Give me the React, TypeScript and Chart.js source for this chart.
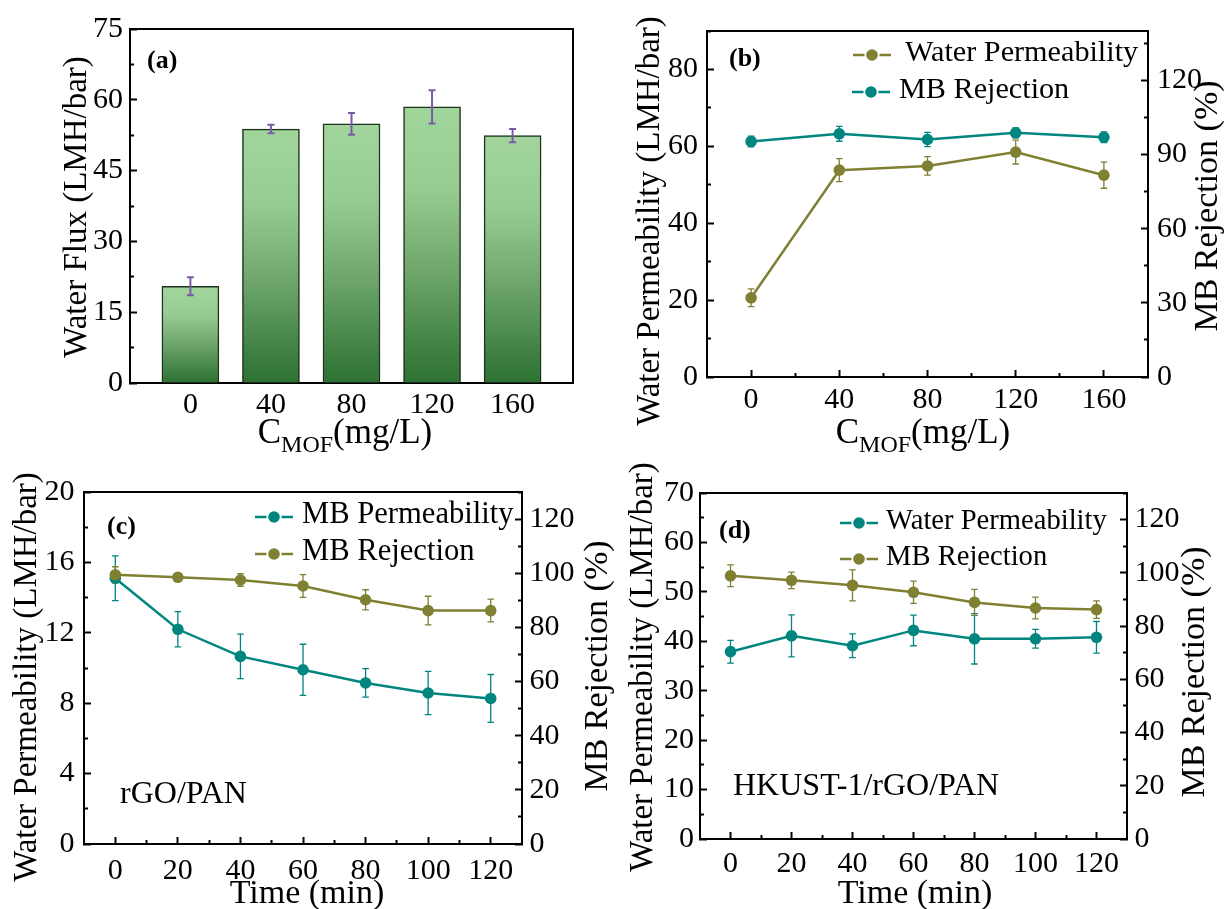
import React, { useEffect, useRef } from 'react';
import { Chart, registerables } from 'chart.js';

Chart.register(...registerables);

const FONT = '"Liberation Serif", "Times New Roman", Times, serif';
Chart.defaults.font.family = FONT;
Chart.defaults.color = '#000';

const TEAL = '#00857f';
const OLIVE = '#808033';
const PURPLE = '#7c5ba6';
const TICK_SIZE = 30;

// ---------- Panel (a): Water flux vs MOF concentration ----------
const aConc = [0, 40, 80, 120, 160];
const aFlux = [20.5, 53.8, 54.9, 58.5, 52.4];
const aFluxErr = [1.9, 0.9, 2.3, 3.5, 1.4];
const aYTicks = [0, 15, 30, 45, 60, 75];
const aXTicks = [0, 40, 80, 120, 160];

// ---------- Panel (b): permeability & rejection vs MOF concentration ----------
const bConc = [0, 40, 80, 120, 160];
const bPerm = [20.6, 53.8, 54.9, 58.5, 52.5];
const bPermErr = [2.3, 3.0, 2.4, 3.1, 3.4];
const bRej = [95.3, 98.4, 96.1, 98.8, 97.0];
const bRejErr = [2.2, 3.0, 2.9, 2.0, 2.2];
const bYTicks = [0, 20, 40, 60, 80];
const bY2Ticks = [0, 30, 60, 90, 120];
const bXTicks = [0, 40, 80, 120, 160];

// ---------- Panel (c): rGO/PAN over time ----------
const cTime = [0, 20, 40, 60, 80, 100, 120];
const cPerm = [15.1, 12.2, 10.66, 9.9, 9.15, 8.58, 8.27];
const cPermErr = [1.27, 1.0, 1.26, 1.45, 0.81, 1.23, 1.36];
const cRej = [99.4, 98.5, 97.5, 95.3, 90.2, 86.2, 86.2];
const cRejErr = [3.0, 1.0, 2.3, 4.2, 3.7, 5.3, 4.2];
const cYTicks = [0, 4, 8, 12, 16, 20];
const cY2Ticks = [0, 20, 40, 60, 80, 100, 120];
const cXTicks = [0, 20, 40, 60, 80, 100, 120];

// ---------- Panel (d): HKUST-1/rGO/PAN over time ----------
const dTime = [0, 20, 40, 60, 80, 100, 120];
const dPerm = [37.9, 41.1, 39.1, 42.2, 40.5, 40.5, 40.8];
const dPermErr = [2.3, 4.25, 2.4, 3.1, 5.1, 1.9, 3.2];
const dRej = [98.9, 97.2, 95.3, 92.7, 88.9, 86.8, 86.2];
const dRejErr = [4.1, 3.1, 5.8, 4.2, 4.9, 4.1, 3.3];
const dYTicks = [0, 10, 20, 30, 40, 50, 60, 70];
const dY2Ticks = [0, 20, 40, 60, 80, 100, 120];
const dXTicks = [0, 20, 40, 60, 80, 100, 120];

const range = (a: number, b: number, s: number) => {
  const out: number[] = [];
  for (let v = a; v <= b + 1e-9; v += s) out.push(Math.round(v * 1000) / 1000);
  return out;
};

const pts = (xs: number[], ys: number[]) => xs.map((x, i) => ({ x, y: ys[i] }));

type AxisOpt = {
  position: 'left' | 'right' | 'bottom';
  min: number;
  max: number;
  ticks: number[];
  labels: number[];
  size: number;
  padding: number;
  marks?: boolean;
};

function axis(o: AxisOpt) {
  const horizontal = o.position === 'bottom';
  const isMajor = (v: number) => o.labels.some((l) => Math.abs(l - v) < 1e-6);
  const minorDash = o.position === 'left' ? [0, 3, 30] : [5, 30];
  return {
    type: 'linear',
    position: o.position,
    min: o.min,
    max: o.max,
    offset: false,
    afterBuildTicks: (s: any) => {
      s.ticks = o.ticks.map((v) => ({ value: v }));
    },
    afterFit: (s: any) => {
      if (horizontal) s.height = o.size;
      else s.width = o.size;
    },
    ticks: {
      autoSkip: false,
      maxRotation: 0,
      minRotation: 0,
      padding: o.padding,
      color: '#000',
      font: { family: FONT, size: TICK_SIZE, lineHeight: 1 },
      callback: (v: any) => (isMajor(Number(v)) ? String(v) : ''),
    },
    grid: {
      display: o.marks !== false,
      offset: false,
      drawOnChartArea: false,
      drawTicks: true,
      tickLength: -7,
      tickWidth: 2,
      tickColor: '#000',
      tickBorderDash: (c: any) => (c.tick && !isMajor(c.tick.value) ? minorDash : []),
    },
    border: { display: true, color: '#000', width: 2 },
    title: { display: false },
  };
}

function drawErrorBars(chart: any) {
  const ctx = chart.ctx;
  chart.data.datasets.forEach((ds: any, di: number) => {
    if (!ds.errorBars) return;
    const meta = chart.getDatasetMeta(di);
    const ys = chart.scales[meta.yAxisID];
    ctx.save();
    ctx.strokeStyle = ds.errorColor;
    ctx.lineWidth = ds.errorWidth;
    ctx.lineCap = 'butt';
    meta.data.forEach((el: any, i: number) => {
      const v = ds.data[i].y;
      const e = ds.errorBars[i];
      const x = el.x;
      const y1 = ys.getPixelForValue(v + e);
      const y2 = ys.getPixelForValue(v - e);
      const cap = ds.errorCap;
      ctx.beginPath();
      ctx.moveTo(x, y1);
      ctx.lineTo(x, y2);
      ctx.moveTo(x - cap, y1);
      ctx.lineTo(x + cap, y1);
      ctx.moveTo(x - cap, y2);
      ctx.lineTo(x + cap, y2);
      ctx.stroke();
    });
    ctx.restore();
  });
}

function errorPlugin(after: boolean) {
  return {
    id: 'errorBars',
    beforeDatasetsDraw: (c: any) => {
      if (!after) drawErrorBars(c);
    },
    afterDatasetsDraw: (c: any) => {
      if (after) drawErrorBars(c);
    },
  };
}

type Txt = {
  text: string;
  x: number;
  y: number;
  size: number;
  bold?: boolean;
  rotate?: boolean;
  align?: CanvasTextAlign;
  baseline?: CanvasTextBaseline;
  sub?: [string, string, string];
  subSize?: number;
  subDy?: number;
};
type LegendItem = { ds: number; x: number; y: number; textX: number };
type DecorCfg = { frameRight?: boolean; texts: Txt[]; legend?: LegendItem[]; legendSize?: number };

function decor(cfg: DecorCfg) {
  return {
    id: 'decor',
    afterDraw: (chart: any) => {
      const ctx: CanvasRenderingContext2D = chart.ctx;
      const ca = chart.chartArea;
      ctx.save();
      // frame
      ctx.strokeStyle = '#000';
      ctx.lineWidth = 2;
      ctx.beginPath();
      ctx.moveTo(ca.left - 1, ca.top);
      ctx.lineTo(ca.right + (cfg.frameRight ? 0 : 1), ca.top);
      if (cfg.frameRight) ctx.lineTo(ca.right, ca.bottom + 1);
      ctx.stroke();
      // texts
      ctx.fillStyle = '#000';
      for (const t of cfg.texts) {
        if (t.sub) {
          const [a, b, c] = t.sub;
          const big = `${t.size}px ${FONT}`;
          const small = `${t.subSize}px ${FONT}`;
          ctx.textAlign = 'left';
          ctx.textBaseline = 'alphabetic';
          ctx.font = big;
          const wa = ctx.measureText(a).width;
          const wc = ctx.measureText(c).width;
          ctx.font = small;
          const wb = ctx.measureText(b).width;
          const x0 = t.x - (wa + wb + wc) / 2;
          ctx.font = big;
          ctx.fillText(a, x0, t.y);
          ctx.font = small;
          ctx.fillText(b, x0 + wa, t.y + (t.subDy || 0));
          ctx.font = big;
          ctx.fillText(c, x0 + wa + wb, t.y);
          continue;
        }
        ctx.font = `${t.bold ? 'bold ' : ''}${t.size}px ${FONT}`;
        ctx.textAlign = t.align || 'center';
        ctx.textBaseline = t.baseline || 'middle';
        if (t.rotate) {
          ctx.save();
          ctx.translate(t.x, t.y);
          ctx.rotate(-Math.PI / 2);
          ctx.fillText(t.text, 0, 0);
          ctx.restore();
        } else {
          ctx.fillText(t.text, t.x, t.y);
        }
      }
      // legend
      if (cfg.legend) {
        for (const it of cfg.legend) {
          const ds = chart.data.datasets[it.ds];
          const col = ds.borderColor;
          ctx.strokeStyle = col;
          ctx.fillStyle = col;
          ctx.lineWidth = 2.5;
          ctx.beginPath();
          ctx.moveTo(it.x - 19, it.y);
          ctx.lineTo(it.x - 7.5, it.y);
          ctx.moveTo(it.x + 7.5, it.y);
          ctx.lineTo(it.x + 19, it.y);
          ctx.stroke();
          ctx.beginPath();
          ctx.arc(it.x, it.y, 5.8, 0, Math.PI * 2);
          ctx.fill();
          ctx.fillStyle = '#000';
          ctx.font = `${cfg.legendSize || 29}px ${FONT}`;
          ctx.textAlign = 'left';
          ctx.textBaseline = 'alphabetic';
          ctx.fillText(ds.label, it.textX, it.y + 6);
        }
      }
      ctx.restore();
    },
  };
}

const barGradient = (c: any) => {
  const chart = c.chart;
  const y = chart.scales && chart.scales.y;
  if (!chart.chartArea || !y || !c.parsed) return '#8cc487';
  const top = y.getPixelForValue(c.parsed.y);
  const bot = y.getPixelForValue(0);
  const g = chart.ctx.createLinearGradient(0, top, 0, bot);
  g.addColorStop(0, '#a1d59c');
  g.addColorStop(0.3, '#96cc91');
  g.addColorStop(0.6, '#6ea56b');
  g.addColorStop(0.85, '#448446');
  g.addColorStop(1, '#2d7232');
  return g;
};

const lineStyle = (color: string) => ({
  borderColor: color,
  backgroundColor: color,
  pointBackgroundColor: color,
  pointBorderColor: color,
  borderWidth: 2.5,
  pointRadius: 5.8,
  pointHoverRadius: 5.8,
  pointBorderWidth: 0,
  tension: 0,
  fill: false,
  errorColor: color,
  errorWidth: 1.3,
  errorCap: 3.3,
});

const baseOptions = (padTop: number, padRight: number) => ({
  responsive: false,
  animation: false,
  events: [],
  layout: { padding: { left: 0, top: padTop, right: padRight, bottom: 0 } },
  plugins: { legend: { display: false }, tooltip: { enabled: false } },
});

function buildA(): any {
  return {
    type: 'bar',
    data: {
      datasets: [
        {
          label: 'Water Flux',
          data: pts(aConc, aFlux),
          backgroundColor: barGradient,
          borderColor: '#1c321c',
          borderWidth: 1.5,
          barThickness: 57,
          errorBars: aFluxErr,
          errorColor: PURPLE,
          errorWidth: 2,
          errorCap: 3.5,
        },
      ],
    },
    options: {
      ...baseOptions(27, 39),
      scales: {
        x: axis({ position: 'bottom', min: -30, max: 190, ticks: aXTicks, labels: aXTicks, size: 77, padding: 14, marks: false }),
        y: axis({ position: 'left', min: 0, max: 75, ticks: range(0, 75, 7.5), labels: aYTicks, size: 130, padding: 14 }),
      },
    },
    plugins: [
      errorPlugin(true),
      decor({
        frameRight: true,
        texts: [
          { text: '(a)', x: 147, y: 61, size: 26, bold: true, align: 'left' },
          { text: 'Water Flux (LMH/bar)', x: 77.5, y: 207, size: 33, rotate: true },
          { text: '', x: 345, y: 443, size: 35, sub: ['C', 'MOF', '(mg/L)'], subSize: 24, subDy: 9 },
        ],
      }),
    ],
  };
}

function buildB(): any {
  return {
    type: 'line',
    data: {
      datasets: [
        { label: 'Water Permeability', data: pts(bConc, bPerm), yAxisID: 'y', ...lineStyle(OLIVE), errorBars: bPermErr, order: 1 },
        { label: 'MB Rejection', data: pts(bConc, bRej), yAxisID: 'y1', ...lineStyle(TEAL), errorBars: bRejErr, order: 0 },
      ],
    },
    options: {
      ...baseOptions(21, 0),
      scales: {
        x: axis({ position: 'bottom', min: -20, max: 180, ticks: range(0, 160, 20), labels: bXTicks, size: 83, padding: 15 }),
        y: axis({ position: 'left', min: 0, max: 90, ticks: range(0, 90, 10), labels: bYTicks, size: 95, padding: 16 }),
        y1: axis({ position: 'right', min: 0, max: 140, ticks: range(0, 135, 15), labels: bY2Ticks, size: 76, padding: 16 }),
      },
    },
    plugins: [
      errorPlugin(false),
      decor({
        texts: [
          { text: '(b)', x: 117, y: 59, size: 26, bold: true, align: 'left' },
          { text: 'Water Permeability (LMH/bar)', x: 38, y: 221, size: 33, rotate: true },
          { text: 'MB Rejection (%)', x: 596, y: 206, size: 34, rotate: true },
          { text: '', x: 311, y: 443, size: 35, sub: ['C', 'MOF', '(mg/L)'], subSize: 24, subDy: 9 },
        ],
        legend: [
          { ds: 0, x: 260, y: 55, textX: 293 },
          { ds: 1, x: 259, y: 92, textX: 287 },
        ],
        legendSize: 30.2,
      }),
    ],
  };
}

function buildC(): any {
  return {
    type: 'line',
    data: {
      datasets: [
        { label: 'MB Permeability', data: pts(cTime, cPerm), yAxisID: 'y', ...lineStyle(TEAL), errorBars: cPermErr, order: 1 },
        { label: 'MB Rejection', data: pts(cTime, cRej), yAxisID: 'y1', ...lineStyle(OLIVE), errorBars: cRejErr, order: 0 },
      ],
    },
    options: {
      ...baseOptions(32, 0),
      scales: {
        x: axis({ position: 'bottom', min: -10, max: 130, ticks: range(0, 120, 10), labels: cXTicks, size: 65, padding: 19 }),
        y: axis({ position: 'left', min: 0, max: 20, ticks: range(0, 20, 2), labels: cYTicks, size: 84, padding: 16.5 }),
        y1: axis({ position: 'right', min: 0, max: 130, ticks: range(0, 130, 10), labels: cY2Ticks, size: 103, padding: 14.5 }),
      },
    },
    plugins: [
      errorPlugin(false),
      decor({
        texts: [
          { text: '(c)', x: 107, y: 67, size: 26, bold: true, align: 'left' },
          { text: 'Water Permeability (LMH/bar)', x: 27, y: 217, size: 33, rotate: true },
          { text: 'MB Rejection (%)', x: 598, y: 206, size: 34, rotate: true },
          { text: 'Time (min)', x: 307, y: 443, size: 34, baseline: 'alphabetic' },
          { text: 'rGO/PAN', x: 120, y: 335, size: 32, align: 'left' },
        ],
        legend: [
          { ds: 0, x: 274, y: 57, textX: 302 },
          { ds: 1, x: 274, y: 94, textX: 302 },
        ],
        legendSize: 30.6,
      }),
    ],
  };
}

function buildD(): any {
  return {
    type: 'line',
    data: {
      datasets: [
        { label: 'Water Permeability', data: pts(dTime, dPerm), yAxisID: 'y', ...lineStyle(TEAL), errorBars: dPermErr, order: 1 },
        { label: 'MB Rejection', data: pts(dTime, dRej), yAxisID: 'y1', ...lineStyle(OLIVE), errorBars: dRejErr, order: 0 },
      ],
    },
    options: {
      ...baseOptions(33, 0),
      scales: {
        x: axis({ position: 'bottom', min: -10, max: 130, ticks: range(0, 120, 10), labels: dXTicks, size: 70, padding: 17 }),
        y: axis({ position: 'left', min: 0, max: 70, ticks: range(0, 70, 5), labels: dYTicks, size: 88, padding: 13 }),
        y1: axis({ position: 'right', min: 0, max: 130, ticks: range(0, 130, 10), labels: dY2Ticks, size: 97, padding: 14.5 }),
      },
    },
    plugins: [
      errorPlugin(false),
      decor({
        texts: [
          { text: '(d)', x: 107, y: 71, size: 26, bold: true, align: 'left' },
          { text: 'Water Permeability (LMH/bar)', x: 31, y: 207, size: 33, rotate: true },
          { text: 'MB Rejection (%)', x: 583, y: 212, size: 34, rotate: true },
          { text: 'Time (min)', x: 303, y: 443, size: 34, baseline: 'alphabetic' },
          { text: 'HKUST-1/rGO/PAN', x: 121, y: 327, size: 32, align: 'left' },
        ],
        legend: [
          { ds: 0, x: 247, y: 63, textX: 274 },
          { ds: 1, x: 247, y: 99, textX: 274 },
        ],
        legendSize: 28.6,
      }),
    ],
  };
}

function Panel(props: { left: number; top: number; width: number; height: number; build: () => any }) {
  const ref = useRef<HTMLCanvasElement>(null);
  useEffect(() => {
    if (!ref.current) return;
    const chart = new Chart(ref.current, props.build());
    return () => chart.destroy();
  }, []);
  return (
    <canvas
      ref={ref}
      width={props.width}
      height={props.height}
      style={{ position: 'absolute', left: props.left, top: props.top, width: props.width, height: props.height }}
    />
  );
}

export default function App() {
  return (
    <div style={{ position: 'absolute', left: 0, top: 0, width: 1224, height: 909, background: '#fff', overflow: 'hidden' }}>
      <Panel left={0} top={0} width={612} height={460} build={buildA} />
      <Panel left={612} top={0} width={612} height={460} build={buildB} />
      <Panel left={0} top={460} width={625} height={449} build={buildC} />
      <Panel left={612} top={460} width={612} height={449} build={buildD} />
    </div>
  );
}
